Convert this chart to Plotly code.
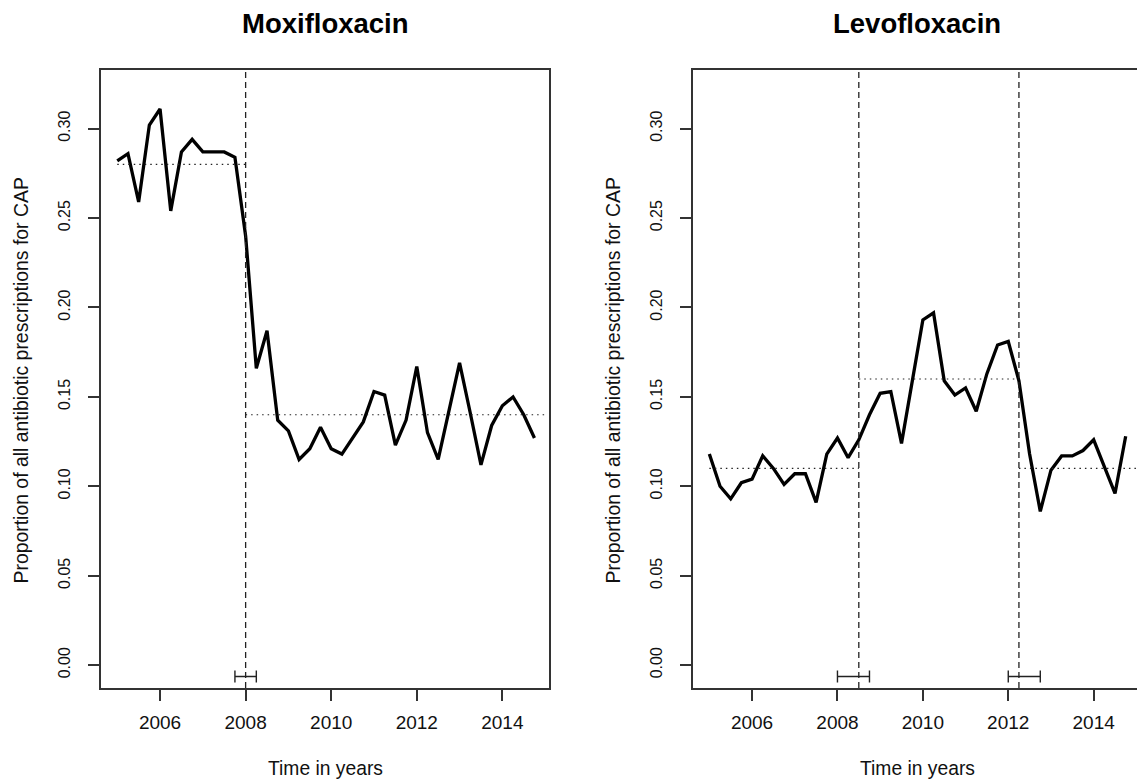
import plotly.graph_objects as go

# ---------------- data ----------------
quarters = [2005 + 0.25 * i for i in range(40)]

moxi = [0.282, 0.286, 0.259, 0.302, 0.311, 0.254, 0.287, 0.294, 0.287, 0.287,
        0.287, 0.284, 0.240, 0.166, 0.187, 0.137, 0.131, 0.115, 0.121, 0.133,
        0.121, 0.118, 0.127, 0.136, 0.153, 0.151, 0.123, 0.137, 0.167, 0.130,
        0.115, 0.143, 0.169, 0.141, 0.112, 0.134, 0.145, 0.150, 0.140, 0.127]

levo = [0.118, 0.100, 0.093, 0.102, 0.104, 0.117, 0.110, 0.101, 0.107, 0.107,
        0.091, 0.118, 0.127, 0.116, 0.126, 0.140, 0.152, 0.153, 0.124, 0.158,
        0.193, 0.197, 0.159, 0.151, 0.155, 0.142, 0.163, 0.179, 0.181, 0.159,
        0.118, 0.086, 0.109, 0.117, 0.117, 0.120, 0.126, 0.111, 0.096, 0.128]

titles = ["Moxifloxacin", "Levofloxacin"]

# segment levels: (start, end, level)
moxi_levels = [(2005.0, 2008.0, 0.28), (2008.0, 2015.0, 0.14)]
levo_levels = [(2005.0, 2008.5, 0.11), (2008.5, 2012.25, 0.16), (2012.25, 2015.0, 0.11)]

# breakpoints and their confidence intervals: (break, lo, hi)
moxi_breaks = [(2008.0, 2007.75, 2008.25)]
levo_breaks = [(2008.5, 2008.0, 2008.75), (2012.25, 2012.0, 2012.75)]

x_ticks = [2006, 2008, 2010, 2012, 2014]
y_ticks = [0.00, 0.05, 0.10, 0.15, 0.20, 0.25, 0.30]

# ---------------- layout geometry ----------------
W, H = 1137, 779
FONT = "Liberation Sans, Arial, sans-serif"
FRAME = "#333333"

panels = [
    dict(series=moxi, levels=moxi_levels, breaks=moxi_breaks,
         xdom=(101 / W, 549 / W), xr=(2004.62, 2015.09), xa="x", ya="y",
         mirror_y=True, xc=325.5, ytx=20),
    dict(series=levo, levels=levo_levels, breaks=levo_breaks,
         xdom=(692.7 / W, 1.0), xr=(2004.61, 2015.015), xa="x2", ya="y2",
         mirror_y=False, xc=917, ytx=612),
]
ydom = ((H - 688) / H, (H - 70) / H)
yr = (-0.0128, 0.3328)

fig = go.Figure()
annotations = []
shapes = []

for i, p in enumerate(panels):
    xa, ya = p["xa"], p["ya"]
    # main series
    fig.add_trace(go.Scatter(x=quarters, y=p["series"], mode="lines",
                             line=dict(color="black", width=3.3),
                             xaxis=xa, yaxis=ya, showlegend=False, hoverinfo="skip"))
    # segment levels (dotted)
    for (a, b, lv) in p["levels"]:
        fig.add_trace(go.Scatter(x=[a, b], y=[lv, lv], mode="lines",
                                 line=dict(color="#222222", width=1.2, dash="1.5px,4px"),
                                 xaxis=xa, yaxis=ya, showlegend=False, hoverinfo="skip"))
    # breakpoints: vertical dashed lines + CI bars
    for (bk, lo, hi) in p["breaks"]:
        shapes.append(dict(type="line", xref=xa, yref=ya + " domain",
                           x0=bk, x1=bk, y0=0, y1=1,
                           line=dict(color="#222222", width=1.3, dash="6px,4px")))
        fig.add_trace(go.Scatter(x=[bk], y=[-0.0064], mode="markers",
                                 marker=dict(size=1, color="#222222"),
                                 error_x=dict(type="data", symmetric=False,
                                              array=[hi - bk], arrayminus=[bk - lo],
                                              color="#222222", thickness=1.4, width=6),
                                 xaxis=xa, yaxis=ya, showlegend=False, hoverinfo="skip"))
    # titles and axis titles
    annotations.append(dict(text="<b>" + titles[i] + "</b>", x=p["xc"] / W, y=1 - 24 / H,
                            xref="paper", yref="paper", showarrow=False,
                            font=dict(family=FONT, size=27.5, color="black"),
                            xanchor="center", yanchor="middle"))
    annotations.append(dict(text="Time in years", x=p["xc"] / W, y=1 - 768 / H,
                            xref="paper", yref="paper", showarrow=False,
                            font=dict(family=FONT, size=19.3, color="#111111"),
                            xanchor="center", yanchor="middle"))
    annotations.append(dict(text="Proportion of all antibiotic prescriptions for CAP",
                            x=p["ytx"] / W, y=1 - 380.5 / H, textangle=-90,
                            xref="paper", yref="paper", showarrow=False,
                            font=dict(family=FONT, size=19.4, color="#111111"),
                            xanchor="center", yanchor="middle"))

axis_common = dict(showgrid=False, zeroline=False, showline=True, linecolor=FRAME,
                   linewidth=1.5, ticks="outside", ticklen=11, tickwidth=1.5,
                   tickcolor=FRAME)

for i, p in enumerate(panels):
    sfx = "" if i == 0 else "2"
    fig.layout["xaxis" + sfx] = dict(
        **axis_common, domain=list(p["xdom"]), range=list(p["xr"]),
        anchor="y" + sfx, tickvals=x_ticks, ticktext=[str(v) for v in x_ticks],
        tickfont=dict(family=FONT, size=19, color="#111111"),
        mirror=True, ticklabelstandoff=5)
    fig.layout["yaxis" + sfx] = dict(
        **axis_common, domain=list(ydom), range=list(yr),
        anchor="x" + sfx, tickvals=y_ticks, ticktext=["%.2f" % v for v in y_ticks],
        tickangle=-90, tickfont=dict(family=FONT, size=16, color="#111111"),
        mirror=p["mirror_y"], ticklabelstandoff=12)

fig.update_layout(width=W, height=H, margin=dict(l=0, r=0, t=0, b=0),
                  paper_bgcolor="white", plot_bgcolor="white",
                  annotations=annotations, shapes=shapes, showlegend=False)

fig.write_html("out.html", config={"displayModeBar": False},
               post_script="document.body.style.margin='0px';document.body.style.overflow='hidden';")
